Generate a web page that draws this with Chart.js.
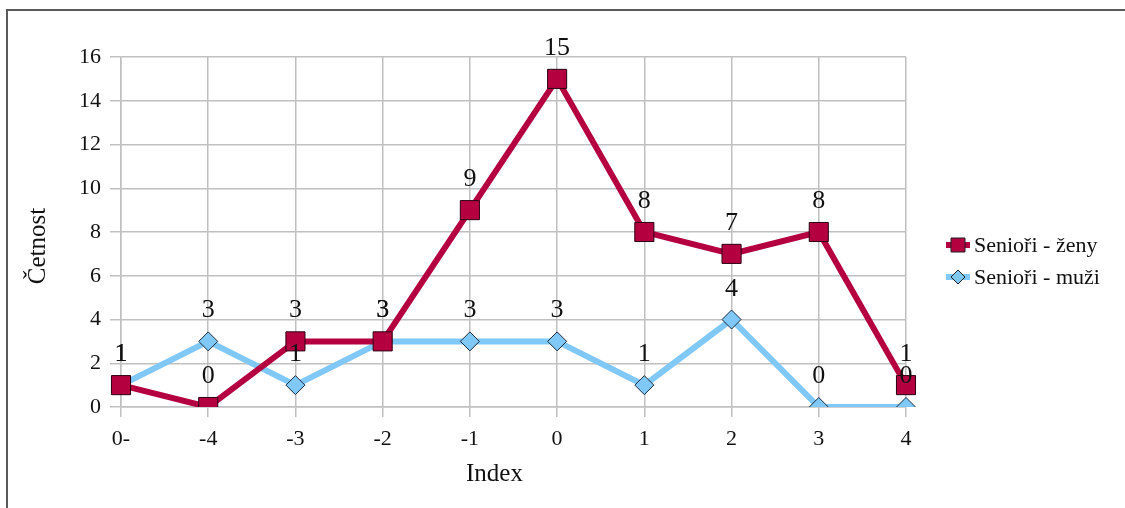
<!DOCTYPE html>
<html>
<head>
<meta charset="utf-8">
<script src="https://cdn.jsdelivr.net/npm/chart.js@4"></script>
<style>
  html, body { margin: 0; padding: 0; background: #fff; overflow: hidden; }
  #wrap { position: relative; width: 1125px; height: 508px; }
  #frame { position: absolute; left: 6px; top: 9px; right: -10px; bottom: -10px;
           border-left: 2px solid #5a5a5a; border-top: 2px solid #5a5a5a; pointer-events: none; }
</style>
</head>
<body>
<div id="wrap">
  <canvas id="c" width="1125" height="508"></canvas>
  <div id="frame"></div>
</div>
<script>
const categories = ['0-', '-4', '-3', '-2', '-1', '0', '1', '2', '3', '4'];
const zeny = [1, 0, 3, 3, 9, 15, 8, 7, 8, 1];
const muzi = [1, 3, 1, 3, 3, 3, 1, 4, 0, 0];

const RED = 'rgb(181,0,64)';
const BLUE = 'rgb(128,200,248)';
const FONT = '"Liberation Serif", "DejaVu Serif", serif';

// value labels above every point
const valueLabels = {
  id: 'valueLabels',
  afterDatasetsDraw(chart) {
    const ctx = chart.ctx;
    ctx.save();
    ctx.font = '26px ' + FONT;
    ctx.fillStyle = '#111';
    ctx.textAlign = 'center';
    ctx.textBaseline = 'alphabetic';
    chart.data.datasets.forEach((ds, i) => {
      chart.getDatasetMeta(i).data.forEach((pt, j) => {
        ctx.fillText(String(ds.data[j]), pt.x, pt.y - 24);
      });
    });
    ctx.restore();
  },
};

// axis titles, placed like the office chart (not centred on the plot)
const axisTitles = {
  id: 'axisTitles',
  afterDraw(chart) {
    const ctx = chart.ctx;
    const a = chart.chartArea;
    ctx.save();
    ctx.fillStyle = '#111';
    ctx.font = '25px ' + FONT;
    ctx.textAlign = 'center';
    ctx.textBaseline = 'middle';
    ctx.fillText('Index', (a.left + a.right) / 2 - 19, 474);
    ctx.translate(38, (a.top + a.bottom) / 2 + 14);
    ctx.rotate(-Math.PI / 2);
    ctx.fillText('Četnost', 0, 0);
    ctx.restore();
  },
};

// legend: line segment + marker + text
const sideLegend = {
  id: 'sideLegend',
  afterDraw(chart) {
    const ctx = chart.ctx;
    const x0 = 946, x1 = 970, tx = 974;
    const rows = [245, 277];
    ctx.save();
    chart.data.datasets.forEach((ds, i) => {
      const y = rows[i];
      ctx.strokeStyle = ds.borderColor;
      ctx.lineWidth = 6;
      ctx.beginPath();
      ctx.moveTo(x0, y);
      ctx.lineTo(x1, y);
      ctx.stroke();
      const cx = (x0 + x1) / 2;
      ctx.fillStyle = ds.pointBackgroundColor;
      ctx.strokeStyle = '#222';
      ctx.lineWidth = 1;
      ctx.beginPath();
      if (ds.pointStyle === 'rect') {
        ctx.rect(cx - 7, y - 7, 14, 14);
      } else {
        ctx.moveTo(cx - 7, y);
        ctx.lineTo(cx, y - 7);
        ctx.lineTo(cx + 7, y);
        ctx.lineTo(cx, y + 7);
        ctx.closePath();
      }
      ctx.fill();
      ctx.stroke();
      ctx.fillStyle = '#111';
      ctx.font = '22px ' + FONT;
      ctx.textAlign = 'left';
      ctx.textBaseline = 'middle';
      ctx.fillText(ds.label, tx, y + 1);
    });
    ctx.restore();
  },
};

new Chart(document.getElementById('c'), {
  type: 'line',
  data: {
    labels: categories,
    datasets: [
      {
        label: 'Senioři - ženy',
        data: zeny,
        borderColor: RED,
        backgroundColor: RED,
        borderWidth: 6,
        pointStyle: 'rect',
        pointRadius: 13.5,
        pointHoverRadius: 13.5,
        pointBackgroundColor: RED,
        pointBorderColor: '#2a0010',
        pointBorderWidth: 1,
        tension: 0,
      },
      {
        label: 'Senioři - muži',
        data: muzi,
        borderColor: BLUE,
        backgroundColor: BLUE,
        borderWidth: 6,
        pointStyle: 'rectRot',
        pointRadius: 9.5,
        pointHoverRadius: 9.5,
        pointBackgroundColor: BLUE,
        pointBorderColor: '#1a2a3a',
        pointBorderWidth: 1,
        tension: 0,
      },
    ],
  },
  options: {
    responsive: false,
    animation: false,
    devicePixelRatio: 1,
    layout: { padding: { left: 0, top: 57, right: 219, bottom: 0 } },
    plugins: {
      legend: { display: false },
      tooltip: { enabled: false },
    },
    scales: {
      x: {
        offset: false,
        grid: { color: '#c0c0c0', lineWidth: 1.5, tickLength: 10, drawTicks: true },
        border: { color: '#c0c0c0', width: 1.5 },
        ticks: { color: '#111', font: { family: FONT, size: 22 }, padding: 9, maxRotation: 0 },
        afterFit: (s) => { s.height = 101; },
      },
      y: {
        min: 0,
        max: 16,
        ticks: { stepSize: 2, color: '#111', font: { family: FONT, size: 22 }, padding: 9 },
        grid: { color: '#c0c0c0', lineWidth: 1.5, tickLength: 11 },
        border: { color: '#c0c0c0', width: 1.5 },
        afterFit: (s) => { s.width = 121; },
      },
    },
  },
  plugins: [valueLabels, axisTitles, sideLegend],
});
</script>
</body>
</html>
